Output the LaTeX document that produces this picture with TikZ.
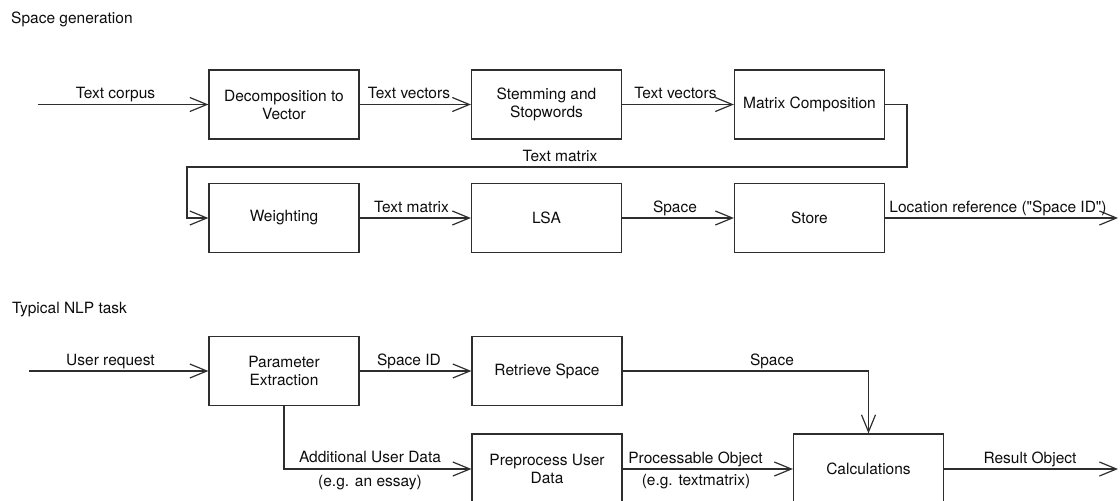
\documentclass[tikz,border=0pt]{standalone}
\usepackage{fontspec}
\setmainfont{TeX Gyre Heros}
\usetikzlibrary{arrows.meta}
\begin{document}
\begin{tikzpicture}[x=1pt,y=-1pt,
  every node/.style={font=\fontsize{15.5}{18}\selectfont, text=black!95},
  block/.style={draw=black!82, line width=1.2pt, minimum width=150pt,
    minimum height=69pt, align=center, inner sep=0pt},
  flow/.style={draw=black!82, line width=1.2pt,
    -{Straight Barb[length=17pt,width=14pt]}},
  lbl/.style={anchor=base, inner sep=0pt},
  heading/.style={anchor=base west, inner sep=0pt}]

\useasboundingbox (0,0) rectangle (1120,501);
\clip (0,0) rectangle (1120,501);

% ---------- Space generation ----------
\node[heading] (h1) at (11,23) {Space generation};

\node[block] (dec)   at (284,104.5)   {Decomposition to\\Vector};
\node[block] (stem)  at (546.5,104.5) {Stemming and\\Stopwords};
\node[block] (mat)   at (809.5,104.5) {Matrix Composition};

\node[block] (wgt)   at (284,218)     {Weighting};
\node[block] (lsa)   at (546.5,218)   {LSA};
\node[block] (store) at (809.5,218)   {Store};

\coordinate (corpus) at (38,104.5);
\coordinate (loopA)  at (907,104.5);
\coordinate (loopB)  at (907,167);
\coordinate (loopC)  at (187,167);
\coordinate (loopD)  at (187,218);
\coordinate (locout) at (1118,218);

\draw[flow] (corpus) -- (dec.west);
\draw[flow] (dec.east) -- (stem.west);
\draw[flow] (stem.east) -- (mat.west);
\draw[flow] (mat.east) -- (loopA) -- (loopB) -- (loopC) -- (loopD) -- (wgt.west);
\draw[flow] (wgt.east) -- (lsa.west);
\draw[flow] (lsa.east) -- (store.west);
\draw[flow] (store.east) -- (locout);

\node[lbl] (l1) at (115.5,98) {Text corpus};
\node[lbl] (l2) at (409,98)   {Text vectors};
\node[lbl] (l3) at (675.5,98) {Text vectors};
\node[lbl] (l4) at (560,161.5) {Text matrix};
\node[lbl] (l5) at (411.5,212) {Text matrix};
\node[lbl] (l6) at (675,212)   {Space};
\node[lbl] (l7) at (998,212)   {Location reference (\textquotedbl Space ID\textquotedbl)};

% ---------- Typical NLP task ----------
\node[heading] (h2) at (12,313) {Typical NLP task};

\node[block] (par)  at (284,371)   {Parameter\\Extraction};
\node[block] (ret)  at (547,371)   {Retrieve Space};
\node[block, minimum height=70pt] (pre)  at (547,469)   {Preprocess User\\Data};
\node[block, minimum height=70pt] (calc) at (868.5,469) {Calculations};

\coordinate (req)    at (29,371);
\coordinate (spc)    at (868.5,371);
\coordinate (addl)   at (284,469);
\coordinate (resout) at (1118,469);

\draw[flow] (req) -- (par.west);
\draw[flow] (par.east) -- (ret.west);
\draw[flow] (ret.east) -- (spc) -- (calc.north);
\draw[flow] (par.south) -- (addl) -- (pre.west);
\draw[flow] (pre.east) -- (calc.west);
\draw[flow] (calc.east) -- (resout);

\node[lbl] (m1) at (110.5,365) {User request};
\node[lbl] (m2) at (409,365)   {Space ID};
\node[lbl] (m3) at (772,365)   {Space};
\node[lbl] (m4) at (370,462)   {Additional User Data};
\node[lbl] (m5) at (370,486)   {(e.g. an essay)};
\node[lbl] (m6) at (695.5,463) {Processable Object};
\node[lbl] (m7) at (696,485)   {(e.g. textmatrix)};
\node[lbl] (m8) at (1030,463)  {Result Object};
\end{tikzpicture}
\end{document}
